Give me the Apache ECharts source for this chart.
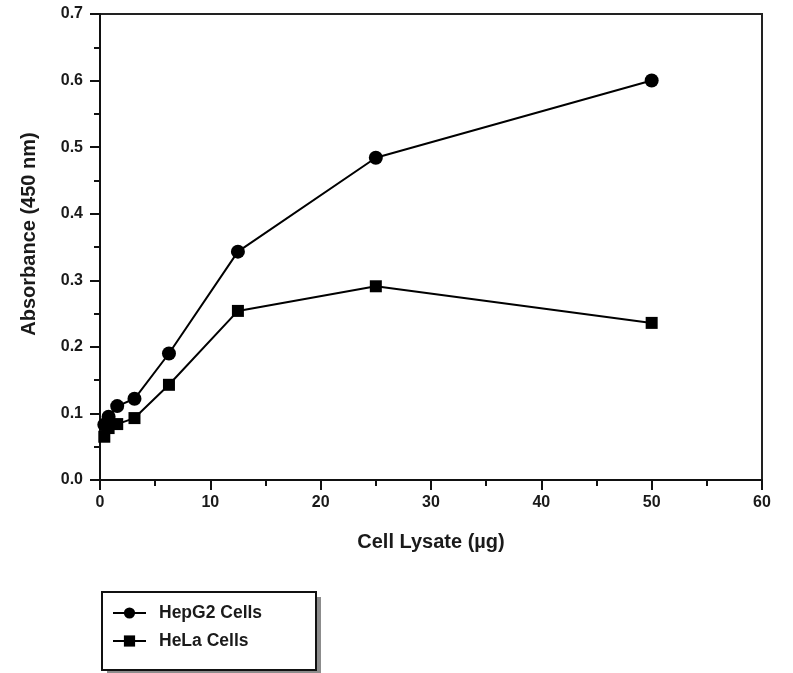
<!DOCTYPE html>
<html>
<head>
<meta charset="utf-8">
<script src="https://cdn.jsdelivr.net/npm/echarts@6/dist/echarts.min.js"></script>
<style>
  html, body { margin: 0; padding: 0; background: #fff; }
  #chart { width: 793px; height: 673px; }
</style>
</head>
<body>
<div id="chart"></div>
<script>
(function(){
  'use strict';
  // cell lysate amounts (µg), serial dilution
  var lysate = [0.39, 0.78, 1.56, 3.125, 6.25, 12.5, 25, 50];
  var hepg2 = [0.083, 0.095, 0.111, 0.122, 0.190, 0.343, 0.484, 0.600];
  var hela = [0.065, 0.078, 0.084, 0.093, 0.143, 0.254, 0.291, 0.236];
  var seriesNames = ['HepG2 Cells', 'HeLa Cells'];

  function pairs(xs, ys){ return xs.map(function(x, i){ return [x, ys[i]]; }); }

  var font = 'Liberation Sans, Arial, sans-serif';
  var ink = '#1a1a1a';

  var chart = echarts.init(document.getElementById('chart'), null, { renderer: 'canvas' });
  chart.setOption({
    animation: false,
    backgroundColor: '#fff',
    grid: { left: 100, right: 31, top: 14, bottom: 193, show: true, borderColor: '#222', borderWidth: 2, backgroundColor: 'transparent' },
    xAxis: {
      type: 'value', min: 0, max: 60, interval: 10,
      name: 'Cell Lysate (µg)', nameLocation: 'middle', nameGap: 52,
      nameTextStyle: { fontFamily: font, fontWeight: 'bold', fontSize: 20, color: ink },
      axisLine: { show: true, lineStyle: { color: '#111', width: 2 } },
      axisTick: { show: true, inside: false, length: 10, lineStyle: { color: '#111', width: 2 } },
      minorTick: { show: true, splitNumber: 2, length: 6, lineStyle: { color: '#111', width: 2 } },
      axisLabel: { fontFamily: font, fontWeight: 'bold', fontSize: 16, color: ink, margin: 15 },
      splitLine: { show: false }
    },
    yAxis: {
      type: 'value', min: 0, max: 0.7, interval: 0.1,
      name: 'Absorbance (450 nm)', nameLocation: 'middle', nameGap: 61,
      nameTextStyle: { fontFamily: font, fontWeight: 'bold', fontSize: 20, color: ink, padding: [0, 0, 0, 26] },
      axisLine: { show: true, lineStyle: { color: '#111', width: 2 } },
      axisTick: { show: true, inside: false, length: 10, lineStyle: { color: '#111', width: 2 } },
      minorTick: { show: true, splitNumber: 2, length: 6, lineStyle: { color: '#111', width: 2 } },
      axisLabel: {
        fontFamily: font, fontWeight: 'bold', fontSize: 16, color: ink, margin: 17,
        formatter: function(v){ return v.toFixed(1); }
      },
      splitLine: { show: false }
    },
    // legend frame with a flat drop shadow
    graphic: [
      { type: 'rect', z: 1, shape: { x: 107, y: 597, width: 214, height: 80 }, style: { fill: '#8c8c8c' } },
      { type: 'rect', z: 2, shape: { x: 102, y: 592, width: 214, height: 78 }, style: { fill: '#fff', stroke: '#111', lineWidth: 2 } }
    ],
    legend: {
      z: 10,
      orient: 'vertical', left: 112, top: 604,
      data: seriesNames,
      itemWidth: 33, itemHeight: 14, itemGap: 10,
      padding: 0,
      textStyle: { fontFamily: font, fontWeight: 'bold', fontSize: 17.5, color: ink, padding: [0, 0, 0, 8] }
    },
    series: [
      {
        name: seriesNames[0], type: 'line', data: pairs(lysate, hepg2),
        symbol: 'circle', symbolSize: 14,
        lineStyle: { color: '#000', width: 2 },
        itemStyle: { color: '#000' }
      },
      {
        name: seriesNames[1], type: 'line', data: pairs(lysate, hela),
        symbol: 'rect', symbolSize: 12,
        lineStyle: { color: '#000', width: 2 },
        itemStyle: { color: '#000' }
      }
    ]
  });
})();
</script>
</body>
</html>
